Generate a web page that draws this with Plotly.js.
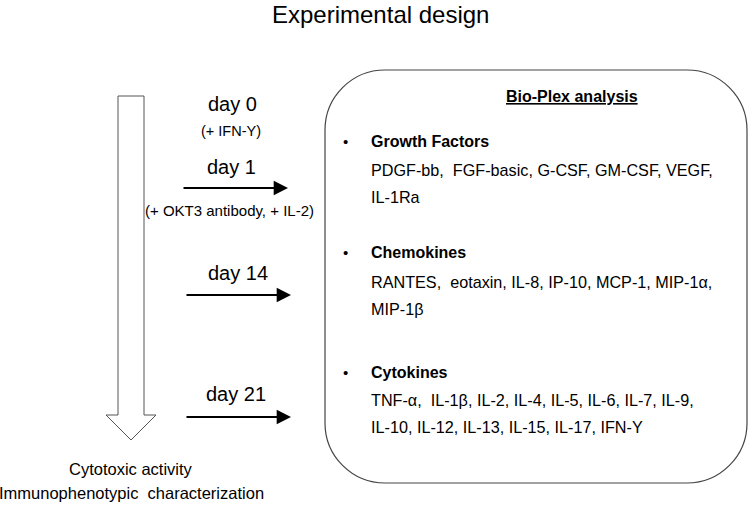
<!DOCTYPE html>
<html>
<head>
<meta charset="utf-8">
<script src="https://cdn.plot.ly/plotly-3.0.1.min.js"></script>
<style>html,body{margin:0;padding:0;background:#fff;}#chart{width:749px;height:507px;}</style>
</head>
<body>
<div id="chart"></div>
<script>
// ---- content ----
var chartTitle = "Experimental design";
var dayLabels = ["day 0", "day 1", "day 14", "day 21"];
var dayNotes = ["(+ IFN-Y)", "(+ OKT3 antibody, + IL-2)", "", ""];
var arrowDays = ["day 1", "day 14", "day 21"];
var outcomeLabels = ["Cytotoxic activity", "Immunophenotypic  characterization"];
var panelTitle = "Bio-Plex analysis";
var categories = ["Growth Factors", "Chemokines", "Cytokines"];
var categoryLines = [
  ["PDGF-bb,  FGF-basic, G-CSF, GM-CSF, VEGF,", "IL-1Ra"],
  ["RANTES,  eotaxin, IL-8, IP-10, MCP-1, MIP-1\u03b1,", "MIP-1\u03b2"],
  ["TNF-\u03b1,  IL-1\u03b2, IL-2, IL-4, IL-5, IL-6, IL-7, IL-9,", "IL-10, IL-12, IL-13, IL-15, IL-17, IFN-Y"]
];

// ---- layout positions (pixel-like axis units) ----
var FONT = "Arial, 'Liberation Sans', sans-serif";
var dayPos = [[232, 104], [231, 167], [238, 273], [236, 394]];
var notePos = [[231, 131], [229, 210]];
var noteSize = [14.5, 15];
var arrowGeom = [[182, 288, 188], [185, 291, 295], [185, 291, 417]];
var catY = [141, 252, 372];
var lineY = [[170, 197], [282, 309], [400, 427]];

var ann = [];
ann.push({x: 380, y: 14, text: chartTitle, font: {family: FONT, size: 24, color: "#000"}});
dayLabels.forEach(function (d, i) {
  ann.push({x: dayPos[i][0], y: dayPos[i][1], text: d, font: {family: FONT, size: 20, color: "#000"}});
});
dayNotes.forEach(function (n, i) {
  if (n) ann.push({x: notePos[i][0], y: notePos[i][1], text: n, font: {family: FONT, size: noteSize[i], color: "#000"}});
});
arrowDays.forEach(function (d, i) {
  var g = arrowGeom[i];
  ann.push({x: g[1], y: g[2], ax: g[0], ay: g[2], axref: "x", ayref: "y", text: "", showarrow: true,
            arrowhead: 2, arrowsize: 1.3, arrowwidth: 2.2, arrowcolor: "#000"});
});
ann.push({x: 131, y: 469, text: outcomeLabels[0], font: {family: FONT, size: 16.5, color: "#000"}});
ann.push({x: 131, y: 493, text: outcomeLabels[1], font: {family: FONT, size: 16.5, color: "#000"}});
ann.push({x: 572, y: 96, text: "<u><b>" + panelTitle + "</b></u>", font: {family: FONT, size: 16, color: "#000"}});
categories.forEach(function (c, i) {
  ann.push({x: 345, y: catY[i], text: "\u2022", font: {family: FONT, size: 15, color: "#000"}});
  ann.push({x: 369, y: catY[i], xanchor: "left", text: "<b>" + c + "</b>", font: {family: FONT, size: 16, color: "#000"}});
  categoryLines[i].forEach(function (t, j) {
    ann.push({x: 369, y: lineY[i][j], xanchor: "left", text: t, font: {family: FONT, size: 16.2, color: "#000"}});
  });
});
ann.forEach(function (a) {
  a.xref = "x"; a.yref = "y";
  if (a.showarrow === undefined) a.showarrow = false;
});

// rounded box path with cubic curves
function roundRect(x0, y0, x1, y1, r) {
  var k = r * 0.4477;
  return "M" + (x0 + r) + "," + y0 + " L" + (x1 - r) + "," + y0 +
    " C" + (x1 - k) + "," + y0 + " " + x1 + "," + (y0 + k) + " " + x1 + "," + (y0 + r) +
    " L" + x1 + "," + (y1 - r) +
    " C" + x1 + "," + (y1 - k) + " " + (x1 - k) + "," + y1 + " " + (x1 - r) + "," + y1 +
    " L" + (x0 + r) + "," + y1 +
    " C" + (x0 + k) + "," + y1 + " " + x0 + "," + (y1 - k) + " " + x0 + "," + (y1 - r) +
    " L" + x0 + "," + (y0 + r) +
    " C" + x0 + "," + (y0 + k) + " " + (x0 + k) + "," + y0 + " " + (x0 + r) + "," + y0 + " Z";
}

var shapes = [
  {type: "path", xref: "x", yref: "y",
   path: "M118,96 L144,96 L144,415 L156,415 L131,440 L106,415 L118,415 Z",
   line: {color: "#555", width: 1}, fillcolor: "rgba(0,0,0,0)"},
  {type: "path", xref: "x", yref: "y", path: roundRect(325, 70, 747, 483, 60),
   line: {color: "#444", width: 1.2}, fillcolor: "rgba(0,0,0,0)"}
];

var layout = {
  width: 749, height: 507, autosize: false,
  margin: {l: 0, r: 0, t: 0, b: 0},
  paper_bgcolor: "#fff", plot_bgcolor: "#fff",
  xaxis: {range: [0, 749], visible: false, fixedrange: true},
  yaxis: {range: [507, 0], visible: false, fixedrange: true},
  showlegend: false,
  annotations: ann,
  shapes: shapes
};
Plotly.newPlot("chart", [], layout, {displayModeBar: false, staticPlot: true});
</script>
</body>
</html>
